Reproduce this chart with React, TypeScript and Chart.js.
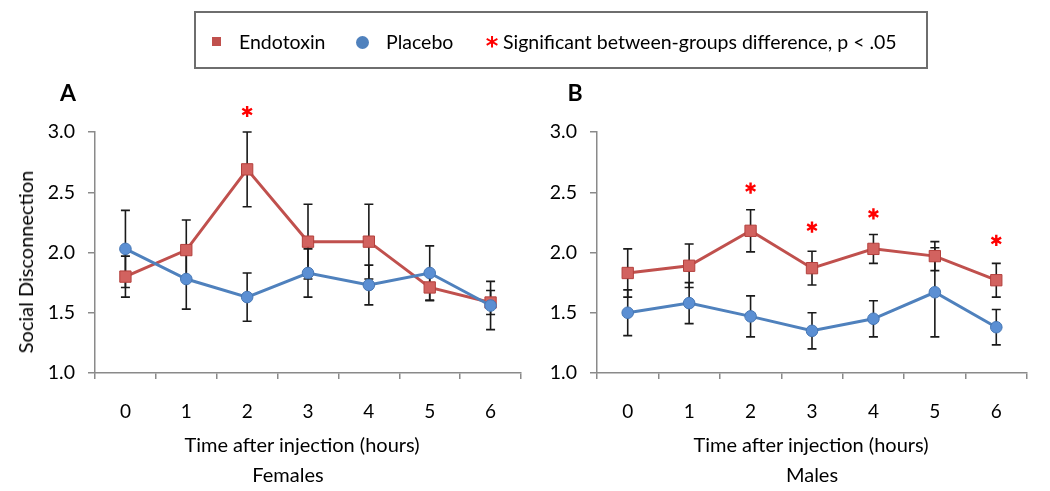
import React, { useEffect, useRef } from "react";
import { Chart, registerables } from "chart.js";

Chart.register(...registerables);

const hours = ["0", "1", "2", "3", "4", "5", "6"];
const yTicks = [1.0, 1.5, 2.0, 2.5, 3.0];

const femaleEndotoxin = [1.8, 2.02, 2.69, 2.09, 2.09, 1.71, 1.585];
const femaleEndotoxinErr = [0.17, 0.25, 0.31, 0.31, 0.31, 0.11, 0.1];
const femalePlacebo = [2.03, 1.78, 1.63, 1.83, 1.73, 1.83, 1.56];
const femalePlaceboErr = [0.32, 0.25, 0.2, 0.2, 0.165, 0.225, 0.2];
const femaleSig = [null, null, 3.17, null, null, null, null];

const maleEndotoxin = [1.83, 1.89, 2.18, 1.87, 2.03, 1.97, 1.77];
const maleEndotoxinErr = [0.2, 0.18, 0.175, 0.14, 0.12, 0.12, 0.14];
const malePlacebo = [1.5, 1.58, 1.47, 1.35, 1.45, 1.67, 1.38];
const malePlaceboErr = [0.19, 0.17, 0.17, 0.15, 0.15, 0.37, 0.147];
const maleSig = [null, null, 2.535, 2.21, 2.32, null, 2.1];

const FONT = "Lato";
const RED = "#C0504D";
const BLUE = "#4F81BD";
const AXIS = "#8a8a8a";

const errorBarPlugin = {
  id: "errorBars",
  beforeDatasetsDraw(chart: any) {
    const ctx = chart.ctx;
    const yScale = chart.scales.y;
    ctx.save();
    ctx.strokeStyle = "#1a1a1a";
    ctx.lineWidth = 1.6;
    chart.data.datasets.forEach((ds: any, i: number) => {
      if (!ds.errors) return;
      const meta = chart.getDatasetMeta(i);
      meta.data.forEach((pt: any, j: number) => {
        const v = ds.data[j];
        const e = ds.errors[j];
        if (v == null || e == null) return;
        const x = pt.x;
        const yTop = yScale.getPixelForValue(v + e);
        const yBot = yScale.getPixelForValue(v - e);
        const cap = 4.5;
        ctx.beginPath();
        ctx.moveTo(x, yTop);
        ctx.lineTo(x, yBot);
        ctx.moveTo(x - cap, yTop);
        ctx.lineTo(x + cap, yTop);
        ctx.moveTo(x - cap, yBot);
        ctx.lineTo(x + cap, yBot);
        ctx.stroke();
      });
    });
    ctx.restore();
  },
};

// significance asterisks, placed through the chart's own scales
const sigPlugin = {
  id: "sigMarks",
  afterDatasetsDraw(chart: any, _args: any, opts: any) {
    const values: (number | null)[] = opts.values || [];
    const ctx = chart.ctx;
    const xs = chart.scales.x;
    const ys = chart.scales.y;
    ctx.save();
    ctx.strokeStyle = "#FF0000";
    ctx.lineWidth = 2.4;
    ctx.lineCap = "butt";
    values.forEach((v, i) => {
      if (v == null) return;
      const x = xs.getPixelForValue(i);
      const y = ys.getPixelForValue(v);
      const r = 5.6;
      ctx.beginPath();
      for (const deg of [90, 30, -30]) {
        const a = (deg * Math.PI) / 180;
        const dx = Math.cos(a) * r;
        const dy = Math.sin(a) * r;
        ctx.moveTo(x - dx, y - dy);
        ctx.lineTo(x + dx, y + dy);
      }
      ctx.stroke();
    });
    ctx.restore();
  },
};

function makeConfig(
  endo: number[],
  endoErr: number[],
  plac: number[],
  placErr: number[],
  sig: (number | null)[],
  yAxisWidth: number,
  padRight: number
): any {
  return {
    type: "line",
    data: {
      labels: hours,
      datasets: [
        {
          label: "Placebo",
          data: plac,
          errors: placErr,
          borderColor: BLUE,
          borderWidth: 3,
          pointStyle: "circle",
          pointRadius: 5.8,
          pointBackgroundColor: "#5B8FD3",
          pointBorderColor: "#4677B5",
          pointBorderWidth: 1,
          tension: 0,
        },
        {
          label: "Endotoxin",
          data: endo,
          errors: endoErr,
          borderColor: RED,
          borderWidth: 3,
          pointStyle: "rect",
          pointRadius: 8,
          pointBackgroundColor: "#D2625F",
          pointBorderColor: "#B4403D",
          pointBorderWidth: 1,
          tension: 0,
        },
      ],
    },
    options: {
      responsive: false,
      animation: false,
      layout: { padding: { top: 132, right: padRight, bottom: 0, left: 0 } },
      plugins: {
        legend: { display: false },
        tooltip: { enabled: false },
        sigMarks: { values: sig },
      },
      scales: {
        x: {
          type: "category",
          offset: true,
          afterFit: (s: any) => {
            s.height = 118;
          },
          grid: {
            offset: true,
            drawOnChartArea: false,
            drawTicks: true,
            tickLength: 6,
            color: AXIS,
            lineWidth: 1.5,
          },
          border: { color: AXIS, width: 1.5 },
          ticks: {
            color: "#000",
            padding: 21,
            maxRotation: 0,
            font: { family: FONT, size: 19 },
          },
        },
        y: {
          min: 1,
          max: 3,
          afterFit: (s: any) => {
            s.width = yAxisWidth;
          },
          afterBuildTicks: (s: any) => {
            s.ticks = yTicks.map((v) => ({ value: v }));
          },
          grid: {
            drawOnChartArea: false,
            drawTicks: true,
            tickLength: 7,
            color: AXIS,
            lineWidth: 1.5,
          },
          border: { color: AXIS, width: 1.5 },
          ticks: {
            color: "#000",
            padding: 13,
            font: { family: FONT, size: 19.5 },
            callback: (v: any) => Number(v).toFixed(1),
          },
        },
      },
    },
    plugins: [errorBarPlugin, sigPlugin],
  };
}

function Txt(props: {
  x: number;
  y: number;
  text: string;
  size: number;
  anchor?: "start" | "middle";
  weight?: number;
  color?: string;
  rotate?: boolean;
  family?: string;
}) {
  const { x, y, text, size, anchor = "middle", weight = 400, color = "#000", rotate, family } = props;
  const tx = anchor === "middle" ? "-50%" : "0";
  return (
    <div
      style={{
        position: "absolute",
        left: x,
        top: y,
        transform: `translate(${tx}, -50%)${rotate ? " rotate(-90deg)" : ""}`,
        transformOrigin: rotate ? "50% 50%" : undefined,
        fontFamily: family || FONT,
        fontSize: size,
        fontWeight: weight,
        color,
        lineHeight: 1,
        whiteSpace: "nowrap",
      }}
    >
      {text}
    </div>
  );
}

export default function App() {
  const refA = useRef<HTMLCanvasElement>(null);
  const refB = useRef<HTMLCanvasElement>(null);

  useEffect(() => {
    const a = new Chart(
      refA.current!,
      makeConfig(femaleEndotoxin, femaleEndotoxinErr, femalePlacebo, femalePlaceboErr, femaleSig, 95, 2)
    );
    const b = new Chart(
      refB.current!,
      makeConfig(maleEndotoxin, maleEndotoxinErr, malePlacebo, malePlaceboErr, maleSig, 67, 23)
    );
    return () => {
      a.destroy();
      b.destroy();
    };
  }, []);

  return (
    <div
      style={{
        position: "absolute",
        left: 0,
        top: 0,
        width: 1050,
        height: 491,
        background: "#fff",
        overflow: "hidden",
      }}
    >
      <canvas ref={refA} width={530} height={491} style={{ position: "absolute", left: 0, top: 0 }} />
      <canvas ref={refB} width={520} height={491} style={{ position: "absolute", left: 530, top: 0 }} />

      {/* legend */}
      <div
        style={{
          position: "absolute",
          left: 194,
          top: 11,
          width: 734,
          height: 58,
          border: "2px solid #6e6e6e",
          boxSizing: "border-box",
        }}
      />
      <div style={{ position: "absolute", left: 212, top: 37, width: 9, height: 9, background: RED }} />
      <Txt x={239} y={42} text="Endotoxin" size={19.5} anchor="start" />
      <div
        style={{
          position: "absolute",
          left: 356,
          top: 36,
          width: 13,
          height: 13,
          borderRadius: "50%",
          background: BLUE,
        }}
      />
      <Txt x={386} y={42} text="Placebo" size={19.5} anchor="start" />
      <Txt x={492} y={46} text="*" size={24} weight={700} color="#FF0000" family="DejaVu Sans" />
      <Txt x={503} y={42} text="Significant between-groups difference, p < .05" size={19.5} anchor="start" />

      {/* panel letters */}
      <Txt x={68} y={92} text="A" size={23} weight={700} />
      <Txt x={575} y={92} text="B" size={23} weight={700} />

      {/* y title */}
      <Txt x={25} y={262} text="Social Disconnection" size={20} rotate />

      {/* x titles */}
      <Txt x={302} y={444} text="Time after injection (hours)" size={20} />
      <Txt x={288} y={474} text="Females" size={20} />
      <Txt x={811} y={444} text="Time after injection (hours)" size={20} />
      <Txt x={812} y={474} text="Males" size={20} />
    </div>
  );
}
